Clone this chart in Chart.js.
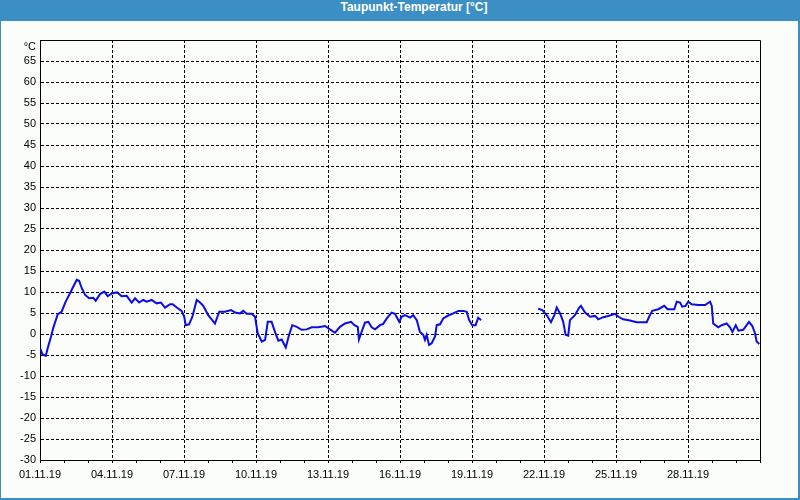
<!DOCTYPE html>
<html>
<head>
<meta charset="utf-8">
<script src="https://cdn.jsdelivr.net/npm/chart.js@4"></script>
<style>
  html, body { margin: 0; padding: 0; background: #fafdfa; }
  #frame { position: absolute; left: 0; top: 0; width: 800px; height: 500px; background: #3b8fc4; }
  #title { position: absolute; left: 0; top: 0; width: 800px; height: 21px; line-height: 21px;
           color: #ffffff; font: bold 12px "Liberation Sans", Arial, sans-serif; text-align: center;
           padding-left: 28px; box-sizing: border-box; }
  #inner { position: absolute; left: 1px; top: 21px; width: 797px; height: 477px; background: #fafdfa; }
  #wrap { position: absolute; left: 0; top: 0; width: 800px; height: 500px; }
</style>
</head>
<body>
<div id="frame">
  <div id="title">Taupunkt-Temperatur [°C]</div>
  <div id="inner"></div>
</div>
<div id="wrap"><canvas id="c" width="800" height="500"></canvas></div>
<script>
// x values: days after 01.11.19 00:00
const days = [
  0.02, 0.10, 0.24, 0.32, 0.46, 0.55, 0.74, 0.90, 1.07, 1.25, 1.39, 1.53, 1.63, 1.74, 1.88,
  2.05, 2.22, 2.32, 2.50, 2.68, 2.82, 3.01, 3.22, 3.40, 3.61, 3.82, 3.96, 4.13, 4.30, 4.45,
  4.65, 4.86, 5.04, 5.21, 5.42, 5.53, 5.70, 5.90, 6.01, 6.07, 6.21, 6.35, 6.53, 6.67, 6.80,
  7.01, 7.29, 7.47, 7.71, 7.96, 8.13, 8.33, 8.47, 8.61, 8.82, 8.96, 9.07, 9.24, 9.38, 9.49,
  9.65, 9.79, 9.93, 10.07, 10.24, 10.38, 10.51, 10.70, 10.90, 11.11, 11.32, 11.60, 11.88,
  12.08, 12.29, 12.50, 12.71, 12.96, 13.10, 13.24, 13.29, 13.40, 13.54, 13.68, 13.82, 13.96,
  14.17, 14.30, 14.45, 14.65, 14.79, 14.97, 15.07, 15.21, 15.42, 15.55, 15.70, 15.83, 15.97,
  16.04, 16.11, 16.21, 16.32, 16.46, 16.53, 16.67, 16.80, 17.01, 17.22, 17.43, 17.64, 17.78,
  17.88, 18.01, 18.15, 18.26, 18.38,
  19.50,
  20.76, 20.93, 21.11, 21.29, 21.43, 21.53, 21.67, 21.80, 21.90, 22.01, 22.08, 22.29, 22.47,
  22.54, 22.71, 22.92, 23.13, 23.26, 23.47, 23.68, 23.96, 24.10, 24.30, 24.58, 24.86, 25.28,
  25.38, 25.51, 25.76, 26.01, 26.15, 26.43, 26.53, 26.67, 26.76, 26.90, 27.01, 27.15, 27.43,
  27.71, 27.92, 27.99, 28.05, 28.26, 28.40, 28.61, 28.75, 28.85, 28.99, 29.10, 29.30, 29.54,
  29.68, 29.79, 29.86, 29.97
];
// dew point in °C (null = no data)
const dewPoint = [
  -3.6, -4.8, -5.2, -3.4, -0.6, 1.4, 4.7, 5.3, 7.7, 9.7, 11.3, 12.9, 12.7, 10.9, 9.3,
  8.5, 8.6, 7.9, 9.5, 10.1, 9.0, 9.7, 9.9, 9.0, 9.1, 7.5, 8.5, 7.5, 8.1, 7.7,
  8.1, 7.3, 7.5, 6.3, 7.1, 7.1, 6.3, 5.5, 4.1, 2.1, 2.3, 4.1, 8.1, 7.5, 6.7,
  4.5, 2.5, 5.3, 5.3, 5.7, 5.1, 4.9, 5.5, 4.8, 4.8, 4.1, 0.2, -1.8, -1.4, 2.9,
  2.9, 0.5, -1.6, -1.3, -3.2, -0.2, 2.1, 1.7, 1.0, 1.1, 1.6, 1.6, 1.9,
  1.1, 0.3, 1.7, 2.5, 2.9, 2.1, 1.7, -1.3, 0.5, 2.7, 2.9, 1.6, 1.1,
  2.1, 2.4, 3.7, 5.1, 4.8, 2.9, 4.1, 4.5, 3.9, 4.5, 3.3, 0.5, -0.2,
  -1.4, -0.2, -2.6, -2.2, -0.6, 2.1, 2.3, 3.7, 4.4, 4.9, 5.5, 5.5, 5.3,
  3.3, 2.1, 2.1, 3.9, 3.3,
  null,
  6.0, 5.7, 4.5, 2.8, 4.5, 6.3, 4.9, 2.9, -0.2, -0.4, 3.3, 4.5, 6.3,
  6.7, 5.1, 4.1, 4.3, 3.5, 4.0, 4.3, 4.8, 4.1, 3.5, 3.2, 2.8, 2.8,
  4.1, 5.5, 5.9, 6.7, 5.9, 5.9, 7.7, 7.5, 6.5, 6.7, 7.7, 7.1, 6.9,
  6.9, 7.7, 6.7, 2.5, 1.6, 2.1, 2.5, 1.6, 0.5, 2.1, 0.8, 1.0, 2.9,
  1.9, 0.2, -1.8, -2.4
];
// x tick labels every 3 days
const dateLabels = ['01.11.19', '04.11.19', '07.11.19', '10.11.19', '13.11.19',
                    '16.11.19', '19.11.19', '22.11.19', '25.11.19', '28.11.19'];
const yUnit = '°C';

const points = days.map((d, i) => ({ x: d, y: dewPoint[i] }));
const tickFont = { family: '"Liberation Sans", Arial, sans-serif', size: 11 };

const framePlugin = {
  id: 'frameBox',
  afterDraw(chart) {
    const a = chart.chartArea, ctx = chart.ctx;
    ctx.save();
    ctx.strokeStyle = '#000';
    ctx.lineWidth = 1;
    ctx.beginPath();
    ctx.moveTo(Math.round(a.left) + 0.5, Math.round(a.top) + 0.5);
    ctx.lineTo(Math.round(a.right) + 0.5, Math.round(a.top) + 0.5);
    ctx.lineTo(Math.round(a.right) + 0.5, Math.round(a.bottom) + 0.5);
    ctx.stroke();
    ctx.restore();
  }
};

new Chart(document.getElementById('c'), {
  type: 'line',
  data: {
    datasets: [{
      data: points,
      borderColor: '#0c0ce8',
      borderWidth: 2,
      pointRadius: 0,
      tension: 0,
      spanGaps: false,
      fill: false
    }]
  },
  options: {
    responsive: false,
    animation: false,
    devicePixelRatio: 1,
    layout: { padding: { left: 0, top: 40, right: 40, bottom: 0 } },
    plugins: { legend: { display: false }, title: { display: false }, tooltip: { enabled: false } },
    scales: {
      x: {
        type: 'linear',
        min: 0, max: 30,
        afterFit(s) { s.height = 40; },
        ticks: {
          stepSize: 1, autoSkip: false, maxRotation: 0, minRotation: 0,
          color: '#000', font: tickFont, padding: 5,
          callback(v) { return (v % 3 === 0 && v < 30) ? dateLabels[v / 3] : ''; }
        },
        grid: {
          color(ctx) {
            const v = ctx.tick ? ctx.tick.value : 0;
            return (v % 3 === 0 && v > 0 && v < 30) ? '#000' : 'rgba(0,0,0,0)';
          },
          tickColor: '#000', tickLength: 3, tickBorderDash: [], lineWidth: 1
        },
        border: { display: true, color: '#000', width: 1, dash: [3, 2] }
      },
      y: {
        min: -30, max: 70,
        afterFit(s) { s.width = 40; },
        ticks: {
          stepSize: 5, autoSkip: false, color: '#000', font: tickFont, padding: 4,
          callback(v) { return v === 70 ? ['', yUnit] : String(v); }
        },
        grid: {
          drawTicks: false,
          color(ctx) {
            const v = ctx.tick ? ctx.tick.value : 0;
            return (v > -30 && v < 70) ? '#000' : 'rgba(0,0,0,0)';
          },
          lineWidth: 1
        },
        border: { display: true, color: '#000', width: 1, dash: [3, 2] }
      }
    }
  },
  plugins: [framePlugin]
});
</script>
</body>
</html>
